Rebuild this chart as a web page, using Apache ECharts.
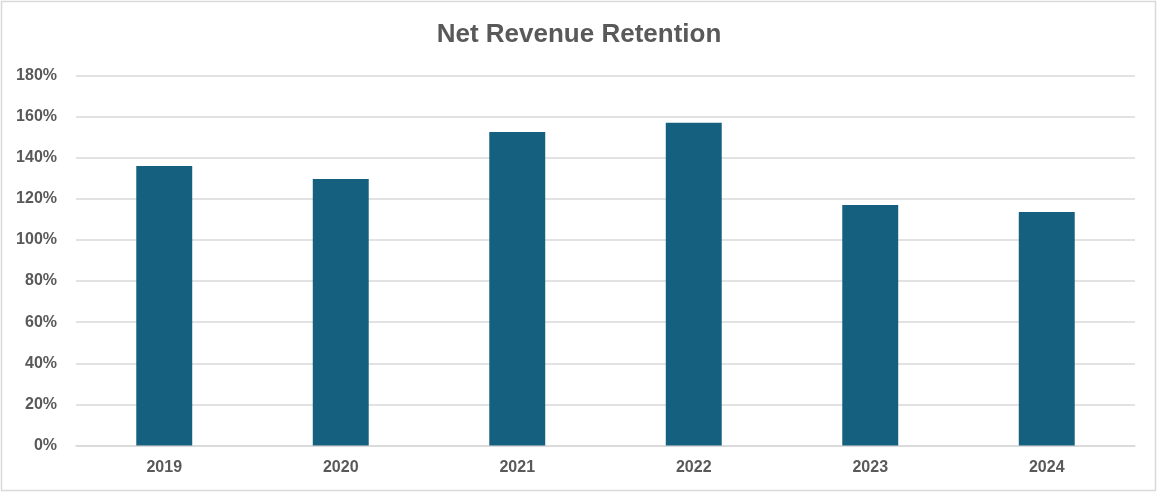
<!DOCTYPE html>
<html>
<head>
<meta charset="utf-8">
<script src="https://cdn.jsdelivr.net/npm/echarts@6/dist/echarts.min.js"></script>
<style>
html,body{margin:0;padding:0;background:#fff;}
#chart{width:1158px;height:494px;}
</style>
</head>
<body>
<div id="chart"></div>
<script>
const categories = ['2019', '2020', '2021', '2022', '2023', '2024'];
const nrrValues = [136, 129.6, 152.5, 157, 117, 113.6];
const yTicks = [0, 20, 40, 60, 80, 100, 120, 140, 160, 180];

const chart = echarts.init(document.getElementById('chart'));
const font = '"Liberation Sans", Arial, sans-serif';
chart.setOption({
  animation: false,
  backgroundColor: '#ffffff',
  title: {
    text: 'Net Revenue Retention',
    left: 'center',
    top: 17,
    textStyle: { fontFamily: font, fontSize: 26, fontWeight: 'bold', color: '#595959' }
  },
  graphic: [{
    type: 'rect',
    shape: { x: 1.5, y: 1.5, width: 1154, height: 489 },
    style: { fill: 'none', stroke: '#d9d9d9', lineWidth: 1.5 },
    silent: true
  }],
  grid: { left: 76, right: 23, top: 75.5, bottom: 48.5, containLabel: false },
  xAxis: {
    type: 'category',
    data: categories,
    axisLine: { show: true, lineStyle: { color: '#d9d9d9', width: 1.5 } },
    axisTick: { show: false },
    axisLabel: { fontFamily: font, fontSize: 16, fontWeight: 'bold', color: '#595959', margin: 14 }
  },
  yAxis: {
    type: 'value',
    min: yTicks[0],
    max: yTicks[yTicks.length - 1],
    interval: 20,
    axisLine: { show: false },
    axisTick: { show: false },
    splitLine: { lineStyle: { color: '#d9d9d9', width: 1.5 } },
    axisLabel: { fontFamily: font, fontSize: 16, fontWeight: 'bold', color: '#595959', margin: 19, formatter: v => v + '%' }
  },
  series: [{
    type: 'bar',
    data: nrrValues,
    barWidth: '31.7%',
    itemStyle: { color: '#16607f' }
  }]
});
</script>
</body>
</html>
